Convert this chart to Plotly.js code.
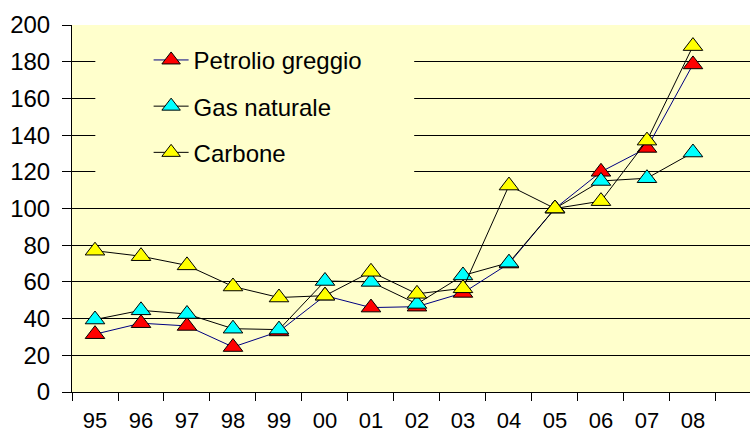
<!DOCTYPE html>
<html>
<head>
<meta charset="utf-8">
<script src="https://cdn.plot.ly/plotly-3.0.1.min.js"></script>
<style>html,body{margin:0;padding:0;background:#fff;}#chart{width:750px;height:436px;}</style>
</head>
<body>
<div id="chart"></div>
<script>
const categories = ["95","96","97","98","99","00","01","02","03","04","05","06","07","08"];
const petrolio = [31.5, 37.5, 36, 24.5, 33, 52.5, 46, 46.5, 54, 70, 100, 120, 133, 178.5];
const gas = [39.5, 44.5, 42.5, 34.5, 34, 60.5, 60, 48, 63.5, 70.5, 100, 115, 116.5, 130.5];
const carbone = [77, 74, 69, 57.5, 51.5, 52.5, 65.5, 53.5, 56.5, 112.5, 100, 104, 137, 188.5];
const seriesNames = ["Petrolio greggio", "Gas naturale", "Carbone"];

const plotBg = "#FFFFCC";
const font = "Liberation Sans, Arial, sans-serif";

function tr(name, y, lineColor, fill, group) {
  return {
    type: "scatter", mode: "lines+markers", name: name, x: categories, y: y,
    legendgroup: group,
    line: {color: lineColor, width: 1},
    marker: {symbol: "triangle-up", size: 17, color: fill, line: {color: "#000", width: 1}},
    cliponaxis: false
  };
}

const data = [
  tr(seriesNames[0], petrolio, "#000080", "#FF0000", "g1"),
  tr(seriesNames[1], gas, "#000000", "#00FFFF", "g2"),
  tr(seriesNames[2], carbone, "#000000", "#FFFF00", "g3")
];

const layout = {
  width: 750, height: 436,
  margin: {l: 72, r: 0, t: 25, b: 44, pad: 0},
  paper_bgcolor: "#FFFFFF",
  plot_bgcolor: plotBg,
  font: {family: font, size: 24, color: "#000"},
  showlegend: true,
  legend: {
    x: 0.113, xanchor: "left", y: 0.965, yanchor: "top",
    bgcolor: plotBg, borderwidth: 0,
    traceorder: "grouped", tracegroupgap: 12,
    itemwidth: 35,
    font: {family: font, size: 24, color: "#000"}
  },
  xaxis: {
    type: "category",
    range: [-0.5, 14.24],
    tickson: "boundaries",
    ticks: "outside", ticklen: 8, tickwidth: 1, tickcolor: "#000",
    showline: true, linecolor: "#000", linewidth: 1,
    showgrid: false, zeroline: false,
    ticklabelstandoff: 9,
    tickfont: {family: font, size: 22, color: "#000"}
  },
  yaxis: {
    range: [0, 200], dtick: 20, tick0: 0,
    ticks: "outside", ticklen: 9, tickwidth: 1, tickcolor: "#000",
    showline: true, linecolor: "#000", linewidth: 1,
    showgrid: true, gridcolor: "#000", gridwidth: 1,
    zeroline: false,
    ticklabelstandoff: 7,
    tickfont: {family: font, size: 24, color: "#000"}
  },
  shapes: [{
    type: "rect", xref: "paper", yref: "paper",
    x0: 0.0344, x1: 0.5047, y0: 0.55, y1: 0.986,
    fillcolor: plotBg, line: {width: 0}, layer: "above"
  }]
};

Plotly.newPlot("chart", data, layout, {staticPlot: true, displayModeBar: false});
</script>
</body>
</html>
